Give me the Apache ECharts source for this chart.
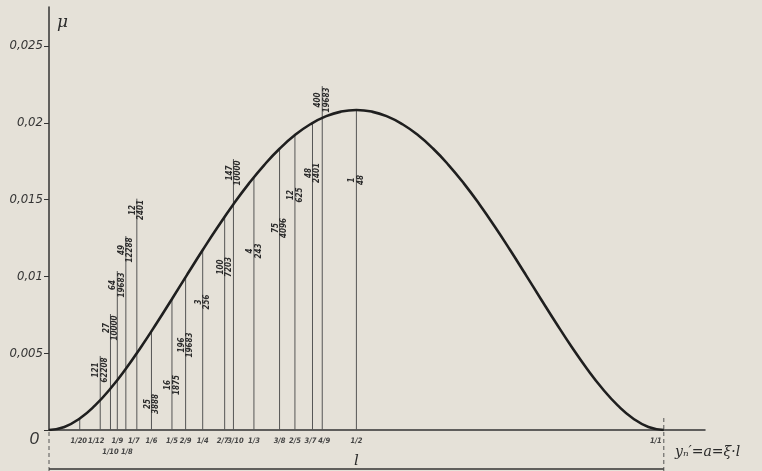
<!DOCTYPE html>
<html><head><meta charset="utf-8">
<script src="https://cdn.jsdelivr.net/npm/echarts@6/dist/echarts.min.js"></script>
<style>html,body{margin:0;padding:0;background:#e5e1d8;}#c{width:762px;height:471px;}</style>
</head><body><div id="c"></div>
<script>
// ---- DATA ----
const curveXi = [0,0.025,0.05,0.075,0.1,0.125,0.15,0.175,0.2,0.225,0.25,0.275,0.3,0.325,0.35,0.375,0.4,0.425,0.45,0.475,0.5,
  0.525,0.55,0.575,0.6,0.625,0.65,0.675,0.7,0.725,0.75,0.775,0.8,0.825,0.85,0.875,0.9,0.925,0.95,0.975,1];
const curveMu = [0,0.000198,0.000752,0.001604,0.0027,0.003988,0.005419,0.006948,0.008533,0.010136,0.011719,0.013250,0.0147,0.016042,0.017252,0.018311,0.0192,0.019906,0.020419,0.020729,0.020833,
  0.020729,0.020419,0.019906,0.0192,0.018311,0.017252,0.016042,0.0147,0.013250,0.011719,0.010136,0.008533,0.006948,0.005419,0.003988,0.0027,0.001604,0.000752,0.000198,0];

const ordXi  = [1/20,1/12,1/10,1/9,1/8,1/7,1/6,1/5,2/9,1/4,2/7,3/10,1/3,3/8,2/5,3/7,4/9,1/2];
const ordMu  = [0.000752,0.001945,0.0027,0.003252,0.003988,0.004998,0.00643,0.008533,0.009958,0.011719,0.013883,0.0147,0.016461,0.018311,0.0192,0.019992,0.020322,0.020833];
const ordNum = ['','121','27','64','49','12','25','16','196','3','100','147','4','75','12','48','400','1'];
const ordDen = ['','62208','10000','19683','12288','2401','3888','1875','19683','256','7203','10000','243','4096','625','2401','19683','48'];

const xTickXi    = [1/20,1/12,1/10,1/9,1/8,1/7,1/6,1/5,2/9,1/4,2/7,3/10,1/3,3/8,2/5,3/7,4/9,1/2,1];
const xTickLabel = ['1/20','1/12','1/10','1/9','1/8','1/7','1/6','1/5','2/9','1/4','2/7','3/10','1/3','3/8','2/5','3/7','4/9','1/2','1/1'];
const yTicks = [0,0.005,0.01,0.015,0.02,0.025];

// ---- LAYOUT (label placement, not data) ----
const labelLevel = [0,0.00391,0.00664,0.00944,0.01172,0.01432,0.00169,0.00293,0.00553,0.00833,0.01061,0.01673,0.01165,0.01315,0.0153,0.01673,0.02148,0.01628];
const xLabelRow  = [0,0,1,0,1,0,0,0,0,0,0,0,0,0,0,0,0,0,0];
const xLabelDx   = [-1,-4,0,0,1,-3,0,0,0,0,-2,2,0,0,0,-2,2,0,-8];

const INK = '#2b2b2b';
const FR_FONT = 'italic bold 8px "DejaVu Sans Condensed","DejaVu Sans",sans-serif';
const XL_FONT = 'italic bold 7.5px "Liberation Sans Narrow","DejaVu Sans Condensed",sans-serif';

function renderOrd(params, api) {
  const i = params.dataIndex;
  const xi = api.value(0), mu = api.value(1), lv = api.value(2);
  const base = api.coord([xi, 0]);
  const top = api.coord([xi, mu]);
  let topY = top[1];
  const kids = [];
  if (ordNum[i]) {
    const c = api.coord([xi, lv]);
    const half = Math.max(ordNum[i].length, ordDen[i].length) * 2.6 + 1;
    topY = Math.min(topY, c[1] - half);
    kids.push({type:'text', x:c[0], y:c[1], rotation:Math.PI/2,
      style:{text:ordNum[i], align:'center', verticalAlign:'bottom', font:FR_FONT, fill:INK}});
    kids.push({type:'text', x:c[0]+0.5, y:c[1], rotation:Math.PI/2,
      style:{text:ordDen[i], align:'center', verticalAlign:'top', font:FR_FONT, fill:INK}});
  }
  kids.unshift({type:'line', shape:{x1:base[0], y1:base[1], x2:base[0], y2:topY},
    style:{stroke:'#555', lineWidth:1}});
  return {type:'group', children:kids};
}

function renderXLab(params, api) {
  const i = params.dataIndex;
  const p = api.coord([api.value(0), 0]);
  return {type:'text', x:p[0] + xLabelDx[i], y:p[1] + 11 + xLabelRow[i]*11,
    style:{text:xTickLabel[i], align:'center', verticalAlign:'middle', font:XL_FONT, fill:'#444'}};
}

function renderDim(params, api) {
  const a = api.coord([0, 0]), b = api.coord([1, 0]), m = api.coord([0.5, 0]);
  return {type:'group', children:[
    {type:'line', shape:{x1:a[0], y1:a[1]+2, x2:a[0], y2:471}, style:{stroke:'#555', lineWidth:1, lineDash:[4,3]}},
    {type:'line', shape:{x1:b[0], y1:b[1]-12, x2:b[0], y2:471}, style:{stroke:'#555', lineWidth:1, lineDash:[4,3]}},
    {type:'line', shape:{x1:a[0], y1:a[1]+39, x2:b[0], y2:b[1]+39}, style:{stroke:'#333', lineWidth:1.5}},
    {type:'text', x:m[0], y:m[1]+31, style:{text:'l', align:'center', verticalAlign:'middle',
      font:'italic 15px "DejaVu Serif",serif', fill:INK}}
  ]};
}

const chart = echarts.init(document.getElementById('c'), null, {renderer:'canvas'});
chart.setOption({
  backgroundColor:'#e5e1d8',
  animation:false,
  grid:{left:49, right:57, top:7, bottom:41},
  xAxis:{type:'value', min:0, max:1.067,
    axisLine:{show:true, lineStyle:{color:'#333', width:1.5}},
    axisTick:{show:false}, axisLabel:{show:false}, splitLine:{show:false}},
  yAxis:{type:'value', min:0, max:0.02754,
    axisLine:{show:true, lineStyle:{color:'#333', width:1.5}},
    axisTick:{show:true, length:5, customValues:yTicks, lineStyle:{color:'#333'}},
    axisLabel:{customValues:yTicks, margin:6, color:'#333',
      fontFamily:'"Liberation Sans Narrow","DejaVu Sans Condensed",sans-serif',
      fontStyle:'italic', fontSize:13,
      formatter:function(v){ return v === 0 ? '{z|0}' : String(v).replace('.', ','); },
      rich:{z:{fontSize:17, fontStyle:'italic', fontFamily:'"Liberation Sans","DejaVu Sans",sans-serif',
        color:'#333', padding:[18,4,0,0]}}},
    splitLine:{show:false}},
  graphic:[
    {type:'text', left:57, top:14, style:{text:'μ', font:'italic 17px "DejaVu Serif",serif', fill:INK}},
    {type:'text', left:675, top:445, style:{text:'yₙ′=a=ξ·l', font:'italic 14px "DejaVu Serif",serif', fill:INK}}
  ],
  series:[
    {type:'custom', renderItem:renderDim, data:[[0,0]], silent:true, z:1},
    {type:'custom', renderItem:renderOrd, data:ordXi.map((x,i)=>[x, ordMu[i], labelLevel[i]]), silent:true, z:2},
    {type:'custom', renderItem:renderXLab, data:xTickXi.map(x=>[x,0]), silent:true, z:2},
    {type:'line', data:curveXi.map((x,i)=>[x, curveMu[i]]), smooth:true, showSymbol:false,
      lineStyle:{color:'#1f1f1f', width:2.6}, z:5, silent:true}
  ]
});
</script></body></html>
